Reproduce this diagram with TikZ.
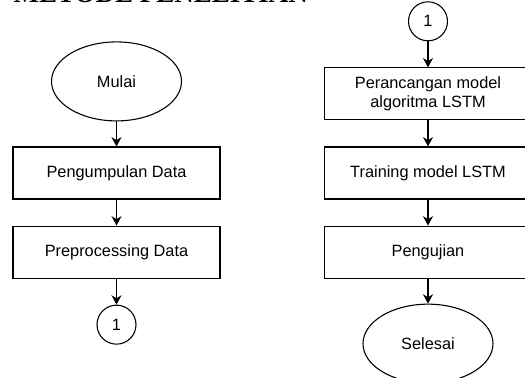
\documentclass[tikz,border=0pt]{standalone}
\usepackage{fontspec}
\setmainfont{Liberation Sans}
\newfontfamily\headfont{Liberation Serif}
\usetikzlibrary{positioning}
\usetikzlibrary{shapes.geometric}
\usetikzlibrary{arrows.meta}

\tikzset{
 prosesbox/.style={draw,rectangle,minimum width=124.2pt,minimum height=31.2pt,align=center,inner sep=2pt},
 terminal/.style={draw,ellipse,minimum width=78pt,minimum height=47.4pt,inner sep=0pt},
 konektor/.style={draw,circle,minimum size=23.4pt,inner sep=0pt},
 panah/.style={-{Stealth[length=5.6pt,width=6pt,inset=1.8pt]}},
}

\begin{document}
\begin{tikzpicture}[x=0.6pt,y=-0.6pt,line width=0.65pt,node distance=15.6pt,font=\fontsize{9.8}{11.4}\selectfont]
 \clip (0,0) rectangle (525,378);
 \useasboundingbox (0,0) rectangle (525,378);
 \node[anchor=base west,inner sep=0pt,font=\headfont\bfseries\fontsize{16.2}{18}\selectfont] (judul) at (13,3) {METODE PENELITIAN};
 % kolom kiri
 \node[prosesbox] (kumpul) at (116.5,173) {Pengumpulan Data};
 \node[terminal,above=15pt of kumpul] (mulai) {Mulai};
 \node[prosesbox,below=of kumpul] (prepro) {Preprocessing Data};
 \node[konektor,below=of prepro] (satu) {1};
 % kolom kanan
 \node[prosesbox] (training) at (428,173) {Training model LSTM};
 \node[prosesbox,above=of training] (rancang) {Perancangan model\\algoritma LSTM};
 \node[konektor,above=of rancang] (satub) {1};
 \node[prosesbox,below=of training] (uji) {Pengujian};
 \node[terminal,below=15pt of uji] (selesai) {Selesai};
 % panah
 \draw[panah] (mulai) -- (kumpul);
 \draw[panah] (kumpul) -- (prepro);
 \draw[panah] (prepro) -- (satu);
 \draw[panah] (satub) -- (rancang);
 \draw[panah] (rancang) -- (training);
 \draw[panah] (training) -- (uji);
 \draw[panah] (uji) -- (selesai);
\end{tikzpicture}
\end{document}
